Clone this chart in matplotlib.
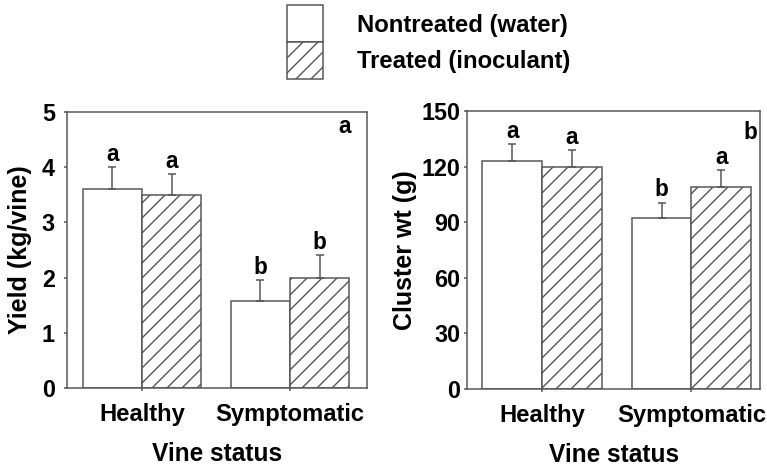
import matplotlib
matplotlib.use('Agg')
import matplotlib.pyplot as plt
from matplotlib.patches import Patch
import numpy as np

# data
status = ['Healthy', 'Symptomatic']
yield_nontreated = [3.6, 1.58]
yield_treated = [3.5, 2.0]
yield_err_nontreated = [0.40, 0.37]
yield_err_treated = [0.37, 0.40]
yield_letters_nontreated = ['a', 'b']
yield_letters_treated = ['a', 'b']

wt_nontreated = [123, 92]
wt_treated = [120, 109]
wt_err_nontreated = [9, 8.5]
wt_err_treated = [9, 9]
wt_letters_nontreated = ['a', 'b']
wt_letters_treated = ['a', 'a']

plt.rcParams['font.family'] = ['Liberation Sans', 'DejaVu Sans']
plt.rcParams['font.weight'] = 'bold'
plt.rcParams['hatch.linewidth'] = 1.1
EDGE = '#555555'
DPI = 90
HATCH = '//'

fig = plt.figure(figsize=(767 / DPI, 468 / DPI), dpi=DPI)
ax1 = fig.add_axes([0.0874, 0.171, 0.391, 0.590])
ax2 = fig.add_axes([0.609, 0.169, 0.382, 0.594])

width = 0.4
x = np.arange(len(status))


def panel(ax, nt, tr, ent, etr, lnt, ltr, ylim, yticks, ylabel, tag, xlim,
          tagx, tagy, ypad, ylabpad):
    ax.bar(x - width / 2, nt, width, facecolor='white', edgecolor=EDGE, linewidth=1.2)
    ax.bar(x + width / 2, tr, width, facecolor='white', edgecolor=EDGE, linewidth=1.2, hatch=HATCH)
    ax.errorbar(x - width / 2, nt, yerr=[np.zeros(len(nt)), ent], fmt='none',
                ecolor=EDGE, elinewidth=1.2, capsize=3, capthick=1.2)
    ax.errorbar(x + width / 2, tr, yerr=[np.zeros(len(tr)), etr], fmt='none',
                ecolor=EDGE, elinewidth=1.2, capsize=3, capthick=1.2)
    for xs, vals, errs, labs in ((x - width / 2, nt, ent, lnt), (x + width / 2, tr, etr, ltr)):
        for xi, v, e, l in zip(xs, vals, errs, labs):
            ax.annotate(l, (xi, v + e), xytext=(0, 5), textcoords='offset points',
                        ha='center', va='baseline', fontsize=18, fontweight='bold')
    ax.set_ylim(*ylim)
    ax.set_xlim(*xlim)
    ax.set_yticks(yticks)
    ax.set_xticks(x)
    ax.set_xticklabels(status)
    ax.tick_params(axis='y', labelsize=18.7, color=EDGE, length=2.8, width=1.2, pad=ypad)
    ax.tick_params(axis='x', labelsize=19, color=EDGE, length=2.8, width=1.2, pad=9)
    for lab in ax.get_xticklabels() + ax.get_yticklabels():
        lab.set_fontweight('bold')
    for sp in ax.spines.values():
        sp.set_color(EDGE)
        sp.set_linewidth(1.2)
    ax.set_ylabel(ylabel, fontsize=20, fontweight='bold', labelpad=ylabpad)
    ax.set_xlabel('Vine status', fontsize=19.6, fontweight='bold', labelpad=13)
    ax.text(tagx, tagy, tag, transform=ax.transAxes, ha='center', va='center',
            fontsize=18, fontweight='bold')


panel(ax1, yield_nontreated, yield_treated, yield_err_nontreated, yield_err_treated,
      yield_letters_nontreated, yield_letters_treated, (0, 5), range(0, 6),
      'Yield (kg/vine)', 'a', (-0.507, 1.52), 0.927, 0.946, 7, 8)
panel(ax2, wt_nontreated, wt_treated, wt_err_nontreated, wt_err_treated,
      wt_letters_nontreated, wt_letters_treated, (0, 150), range(0, 151, 30),
      'Cluster wt (g)', 'b', (-0.503, 1.46), 0.966, 0.921, 2.4, 4)

handles = [Patch(facecolor='white', edgecolor=EDGE, linewidth=1.2),
           Patch(facecolor='white', edgecolor=EDGE, linewidth=1.2, hatch=HATCH)]
fig.legend(handles, ['Nontreated (water)', 'Treated (inoculant)'],
           loc='upper left', bbox_to_anchor=(0.353, 1.024), frameon=False,
           handlelength=1.5, handleheight=2.0, labelspacing=0.0,
           handletextpad=1.42, borderpad=0.2,
           prop={'size': 19.1, 'weight': 'bold'})

fig.savefig('out.png', dpi=DPI)
